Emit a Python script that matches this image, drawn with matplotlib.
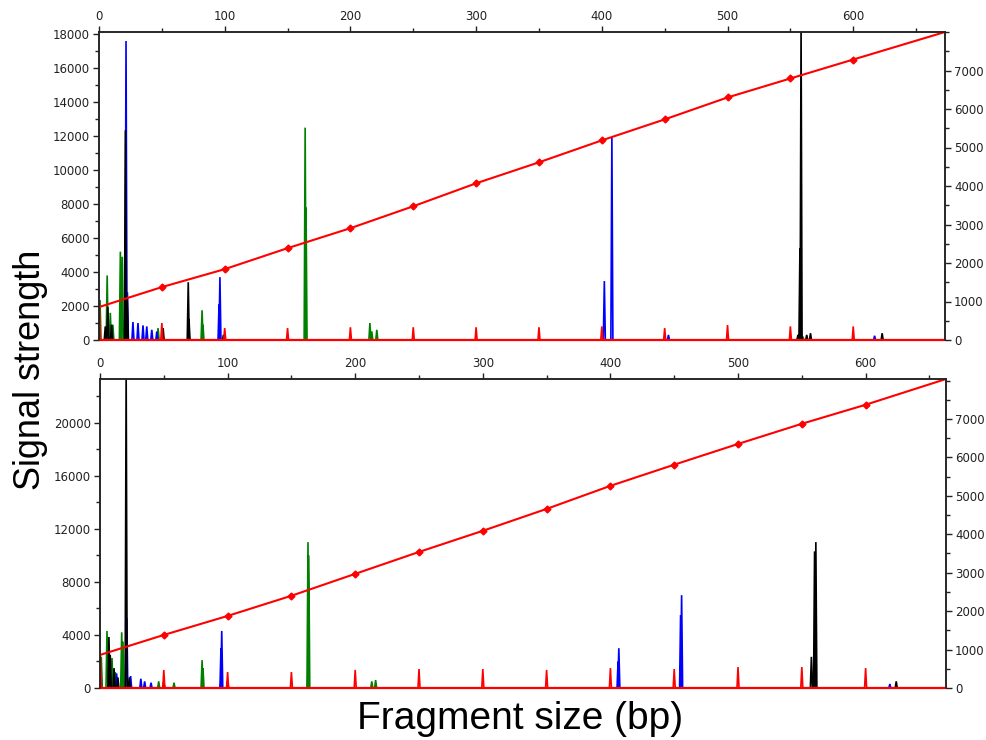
import numpy as np
import matplotlib
matplotlib.use("Agg")
import matplotlib.pyplot as plt
from matplotlib.ticker import MultipleLocator

# ---------------- DATA ----------------
# Size-standard sizes (bp) and calibration (scan number, right axis)
std_sizes = [50, 100, 150, 200, 250, 300, 350, 400, 450, 500, 550, 600]

top_calib_size = [0, 50, 100, 150, 200, 250, 300, 350, 400, 450, 500, 550, 600, 673]
top_calib_scan = [855, 1374, 1840, 2385, 2904, 3474, 4070, 4615, 5185, 5730, 6300, 6793, 7285, 8000]
bot_calib_size = [0, 50, 100, 150, 200, 250, 300, 350, 400, 450, 500, 550, 600, 663]
bot_calib_scan = [860, 1380, 1875, 2400, 2970, 3540, 4090, 4660, 5260, 5810, 6350, 6875, 7370, 8040]

# Peaks: position (bp), height (signal, left axis)
top_blue_pos = [21.5, 22.6, 27, 31, 35, 38, 42, 46, 95.5, 96.2, 402, 408, 453, 617]
top_blue_h   = [17600, 2800, 1060, 1000, 860, 800, 600, 500, 2100, 3700, 3470, 11950, 300, 250]
top_green_pos = [0.8, 6.5, 9, 11, 17, 18.5, 47, 82, 82.7, 164, 164.7, 215.5, 217, 221, 560]
top_green_h   = [2350, 3800, 1600, 900, 5200, 4900, 700, 1750, 900, 12500, 7800, 1000, 500, 600, 200]
top_black_pos = [5, 7, 10, 21, 22.5, 51, 71, 71.6, 99, 556, 557.6, 558.5, 563, 566, 623]
top_black_h   = [800, 1950, 900, 12350, 2500, 700, 3400, 1200, 300, 300, 5400, 18500, 300, 400, 400]
top_red_pos = [0.3] + std_sizes
top_red_h   = [1900, 1000, 700, 700, 750, 750, 750, 750, 800, 700, 880, 800, 800]

bot_blue_pos = [13, 21, 24, 32, 35, 40, 94.8, 95.4, 406, 406.6, 455, 455.8, 619]
bot_blue_h   = [1100, 5280, 900, 700, 500, 400, 3000, 4300, 2000, 3000, 5500, 7000, 300]
bot_green_pos = [1, 5.5, 9.4, 12, 17, 18, 46, 58, 80, 80.7, 163, 163.6, 213, 216]
bot_green_h   = [2350, 4300, 2260, 1200, 4200, 3500, 500, 400, 2100, 1500, 11000, 10000, 500, 600]
bot_black_pos = [7, 8, 11, 14, 20.5, 23, 50, 100, 557.5, 560, 561, 624]
bot_black_h   = [3850, 2500, 1500, 800, 24000, 800, 500, 500, 2350, 10300, 11000, 500]
bot_red_pos = [0.3] + std_sizes
bot_red_h   = [2400, 1360, 1200, 1200, 1360, 1430, 1430, 1360, 1500, 1430, 1580, 1580, 1500]

top_xmax, bot_xmax = 673, 663
top_ymax, bot_ymax = 18130, 23300
top_rmax, bot_rmax = 8000, 8040

# ---------------- PLOT ----------------
plt.rcParams['font.family'] = ['DejaVu Sans']

fig = plt.figure(figsize=(9.87, 7.4), dpi=100)

BLUE = '#0000ff'
GREEN = '#008000'
BLACK = '#000000'
RED = '#ff0000'


def peaks_xy(pos, h, w=0.8):
    xs, ys = [], []
    for p, v in zip(pos, h):
        xs += [p - w, p, p + w, np.nan]
        ys += [0, v, 0, np.nan]
    return xs, ys


def make_panel(rect, xmax, ymax, rmax, ymaj, ymin, traces, calib_size, calib_scan):
    ax = fig.add_axes(rect)
    ax.set_xlim(0, xmax)
    ax.set_ylim(0, ymax)
    for pos, h, col in traces:
        xs, ys = peaks_xy(pos, h)
        ax.plot(xs, ys, color=col, lw=1.2, solid_joinstyle='miter')
    ax.plot([0, xmax], [0, 0], color=RED, lw=1.6, clip_on=False, zorder=5)

    ax.xaxis.tick_top()
    ax.xaxis.set_major_locator(MultipleLocator(100))
    ax.xaxis.set_minor_locator(MultipleLocator(50))
    ax.yaxis.set_major_locator(MultipleLocator(ymaj))
    ax.yaxis.set_minor_locator(MultipleLocator(ymin))
    ax.tick_params(axis='both', which='major', direction='out', length=4.5,
                   width=1, labelsize=8.5, colors='#222222', pad=2)
    ax.tick_params(axis='both', which='minor', direction='out', length=3, width=1,
                   colors='#222222')
    ax.tick_params(axis='x', which='both', bottom=False, labelbottom=False)
    ax.tick_params(axis='y', which='both', right=False)
    for s in ['left', 'top', 'right']:
        ax.spines[s].set_color('#222222')
        ax.spines[s].set_linewidth(1.1)
    ax.spines['bottom'].set_visible(False)

    ax2 = ax.twinx()
    ax2.set_ylim(0, rmax)
    ax2.yaxis.set_major_locator(MultipleLocator(1000))
    ax2.yaxis.set_minor_locator(MultipleLocator(500))
    ax2.tick_params(axis='y', which='major', direction='out', length=4.5, width=1,
                    labelsize=8.5, colors='#222222', pad=2)
    ax2.tick_params(axis='y', which='minor', direction='out', length=3, width=1,
                    colors='#222222')
    ax2.set_yticks([t for t in range(0, 8000, 1000)])
    ax2.set_ylim(0, rmax)
    for s in ['left', 'top', 'right']:
        ax2.spines[s].set_color('#222222')
        ax2.spines[s].set_linewidth(1.1)
    ax2.spines['bottom'].set_visible(False)
    ax2.plot(calib_size, calib_scan, color=RED, lw=1.5)
    ax2.plot(calib_size[1:-1], calib_scan[1:-1], linestyle='none', marker='D',
             markersize=3.5, color=RED)
    return ax, ax2


make_panel([99 / 987, 1 - 340 / 740, (945 - 99) / 987, (340 - 32) / 740],
           top_xmax, top_ymax, top_rmax, 2000, 1000,
           [(top_green_pos, top_green_h, GREEN),
            (top_blue_pos, top_blue_h, BLUE),
            (top_black_pos, top_black_h, BLACK),
            (top_red_pos, top_red_h, RED)],
           top_calib_size, top_calib_scan)

make_panel([100 / 987, 1 - 688 / 740, (946 - 100) / 987, (688 - 379) / 740],
           bot_xmax, bot_ymax, bot_rmax, 4000, 2000,
           [(bot_green_pos, bot_green_h, GREEN),
            (bot_blue_pos, bot_blue_h, BLUE),
            (bot_black_pos, bot_black_h, BLACK),
            (bot_red_pos, bot_red_h, RED)],
           bot_calib_size, bot_calib_scan)

fig.text(0.031, 0.5, 'Signal strength', rotation=90, ha='center', va='center',
         fontsize=26, family=['Liberation Sans', 'DejaVu Sans'])
fig.text(0.527, 0.028, 'Fragment size (bp)', ha='center', va='center',
         fontsize=28, family=['Liberation Sans', 'DejaVu Sans'])

fig.savefig('out.png', dpi=100, facecolor='white')
